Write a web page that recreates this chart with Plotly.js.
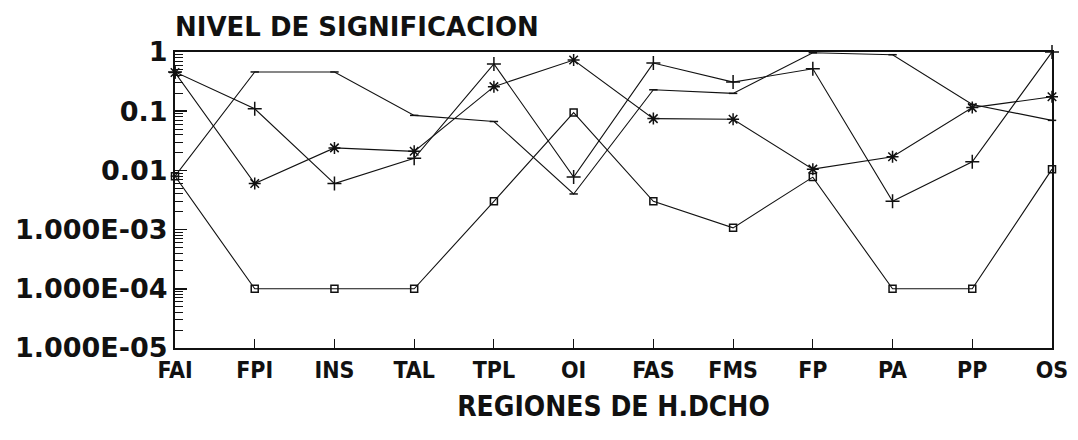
<!DOCTYPE html>
<html>
<head>
<meta charset="utf-8">
<script src="https://cdn.plot.ly/plotly-3.0.1.min.js"></script>
<style>
  html, body { margin: 0; padding: 0; background: #fff; }
  #chart { width: 1078px; height: 440px; }
</style>
</head>
<body>
<div id="chart"></div>
<script>
// regiones (eje x)
const regiones = ['FAI', 'FPI', 'INS', 'TAL', 'TPL', 'OI', 'FAS', 'FMS', 'FP', 'PA', 'PP', 'OS'];

// niveles de significacion
const serieCuadros = [0.008, 1e-4, 1e-4, 1e-4, 0.003, 0.095, 0.003, 0.00107, 0.0077, 1e-4, 1e-4, 0.0105];
const serieCruces  = [0.46, 0.11, 0.006, 0.016, 0.63, 0.0077, 0.65, 0.31, 0.52, 0.003, 0.014, 1];
const serieAster   = [0.45, 0.006, 0.024, 0.021, 0.26, 0.73, 0.075, 0.073, 0.0105, 0.017, 0.115, 0.175];
const serieLinea   = [0.008, 0.46, 0.46, 0.085, 0.067, 0.004, 0.23, 0.2, 0.97, 0.9, 0.13, 0.07];

// etiquetas del eje y
const yTicks  = [1, 0.1, 0.01, 0.001, 1e-4, 1e-5];
const yLabels = ['1', '0.1', '0.01', '1.000E-03', '1.000E-04', '1.000E-05'];

const condensada = 'DejaVu Sans Condensed, Liberation Sans, sans-serif';

const mk = (y, symbol, size) => ({
  x: regiones, y: y, type: 'scatter', mode: 'lines+markers',
  line: { color: '#111', width: 1.1 },
  marker: { symbol: symbol, size: size, color: '#111', line: { color: '#111', width: 1.5 } },
  cliponaxis: false, hoverinfo: 'skip'
});

const traces = [
  mk(serieLinea, 'line-ew-open', 6),
  mk(serieAster, 'asterisk-open', 10),
  mk(serieCruces, 'cross-thin-open', 10),
  mk(serieCuadros, 'square-open', 7)
];

const layout = {
  width: 1078, height: 440,
  margin: { l: 175, r: 26, t: 52, b: 92 },
  paper_bgcolor: 'white', plot_bgcolor: 'white',
  showlegend: false,
  font: { family: 'DejaVu Sans, sans-serif', color: '#111' },
  title: {
    text: '<b>NIVEL DE SIGNIFICACION</b>',
    font: { family: 'DejaVu Sans, sans-serif', size: 26, color: '#111' },
    xref: 'paper', x: 0, xanchor: 'left',
    yref: 'container', y: 1 - 27 / 440, yanchor: 'middle'
  },
  xaxis: {
    type: 'category', range: [0, 11],
    showgrid: false, zeroline: false,
    showline: true, mirror: true, linecolor: '#111', linewidth: 2,
    ticks: 'inside', ticklen: 9, tickwidth: 1, tickcolor: '#111',
    tickfont: { family: condensada, size: 23, weight: 'bold' },
    title: {
      text: '<b>REGIONES DE H.DCHO</b>',
      font: { family: condensada, size: 28 },
      standoff: 15
    }
  },
  yaxis: {
    type: 'log', range: [-5, 0],
    showgrid: false, zeroline: false,
    showline: true, mirror: true, linecolor: '#111', linewidth: 2,
    tickmode: 'array', tickvals: yTicks, ticktext: yLabels,
    ticks: 'inside', ticklen: 12, tickwidth: 1.5, tickcolor: '#111',
    tickfont: { family: 'DejaVu Sans, sans-serif', size: 27, weight: 'bold' },
    minor: { dtick: 'D1', ticks: 'inside', ticklen: 8, tickwidth: 1, tickcolor: '#111', showgrid: false }
  }
};

Plotly.newPlot('chart', traces, layout, { staticPlot: true });
</script>
</body>
</html>
